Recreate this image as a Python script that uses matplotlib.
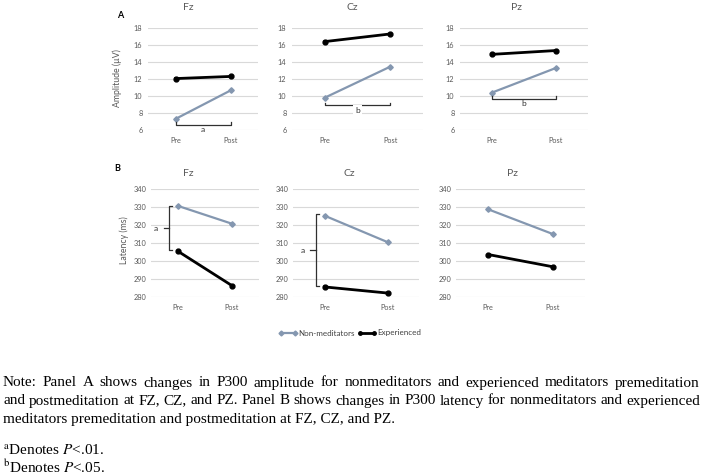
import numpy as np
import matplotlib.pyplot as plt
from matplotlib.lines import Line2D

# data
groups = ["Pre", "Post"]
sites = ["Fz", "Cz", "Pz"]
amp_nonmed = [[7.3, 10.65], [9.8, 13.45], [10.4, 13.3]]
amp_exp = [[12.05, 12.3], [16.4, 17.3], [14.9, 15.35]]
lat_nonmed = [[330.6, 320.7], [325.2, 310.5], [328.7, 315.0]]
lat_exp = [[305.4, 286.3], [285.6, 282.2], [303.6, 296.8]]
amp_ticks = [6, 8, 10, 12, 14, 16, 18]
lat_ticks = [280, 290, 300, 310, 320, 330, 340]
# significance brackets: amplitude (level, label, gap), latency (low, high, label)
amp_sig = {"Fz": (6.6, "a", False), "Cz": (8.9, "b", True), "Pz": (9.66, "b", False)}
lat_sig = {"Fz": (306.0, 330.5, "a"), "Cz": (286.3, 325.9, "a")}

note_lines = [
    "Note: Panel A shows changes in P300 amplitude for nonmeditators and experienced meditators premeditation",
    "and postmeditation at FZ, CZ, and PZ. Panel B shows changes in P300 latency for nonmeditators and experienced",
    "meditators premeditation and postmeditation at FZ, CZ, and PZ.",
]
footnotes = [r"$^{\mathrm{a}}$Denotes $P$<.01.", r"$^{\mathrm{b}}$Denotes $P$<.05."]

GRAY = "#8497b0"
TXT = "#595959"
plt.rcParams["font.family"] = ["Lato", "DejaVu Sans"]
plt.rcParams["mathtext.fontset"] = "stix"

W, H = 703, 476
fig = plt.figure(figsize=(W / 100, H / 100), dpi=100)


def px_axes(x0, x1, ytop, ybot):
    return fig.add_axes([x0 / W, 1 - ybot / H, (x1 - x0) / W, (ybot - ytop) / H])


def style(ax, ticks, ypad):
    ax.set_xlim(-0.5, 1.5)
    ax.set_xticks([0, 1], groups)
    ax.set_ylim(ticks[0], ticks[-1])
    ax.set_yticks(ticks)
    ax.grid(axis="y", color="#d9d9d9", lw=0.8)
    ax.set_axisbelow(True)
    for s in ax.spines.values():
        s.set_visible(False)
    ax.tick_params(axis="both", length=0, labelsize=5.3, colors=TXT)
    ax.tick_params(axis="x", pad=5)
    ax.tick_params(axis="y", pad=ypad)


def series(ax, nm, ex):
    ax.plot([0, 1], nm, color=GRAY, lw=1.6, marker="D", ms=2.8, clip_on=False, zorder=3)
    ax.plot([0, 1], ex, color="black", lw=2.0, marker="o", ms=3.5, clip_on=False, zorder=3)


A_boxes = [(148, 258), (292, 423), (460, 588)]
B_boxes = [(151, 259), (293, 419), (456, 585)]
A_title_x = [188, 352, 517]
B_title_x = [188, 349, 513]

for i, site in enumerate(sites):
    x0, x1 = A_boxes[i]
    ax = px_axes(x0, x1, 28, 130)
    style(ax, amp_ticks, 4)
    series(ax, amp_nonmed[i], amp_exp[i])
    fig.text(A_title_x[i] / W, 1 - 8 / H, site, ha="center", va="center", fontsize=7.5, color=TXT)
    lvl, lab, gap = amp_sig[site]
    ax.plot([0, 0, 1, 1], [lvl + 0.3, lvl, lvl, lvl + 0.3], color="#303030", lw=0.9, clip_on=False, zorder=4)
    kw = dict(bbox=dict(fc="white", ec="none", pad=1.5)) if gap else {}
    ax.annotate(lab, (0.5, lvl), xytext=(0, -3.5), textcoords="offset points",
                ha="center", va="center", fontsize=6, color="#303030", zorder=5, **kw)

    x0, x1 = B_boxes[i]
    ax = px_axes(x0, x1, 189, 297)
    style(ax, lat_ticks, 3)
    series(ax, lat_nonmed[i], lat_exp[i])
    fig.text(B_title_x[i] / W, 1 - 173 / H, site, ha="center", va="center", fontsize=7.5, color=TXT)
    if site in lat_sig:
        lo, hi, lab = lat_sig[site]
        upx = 2.0 / (x1 - x0)  # data units per pixel
        xb = -9 * upx
        mid = (lo + hi) / 2
        ax.plot([xb + 3 * upx, xb, xb, xb + 3 * upx], [hi, hi, lo, lo], color="#303030", lw=0.9, clip_on=False)
        ax.plot([xb, xb - 5.5 * upx], [mid, mid], color="#303030", lw=0.9, clip_on=False)
        ax.text(xb - 13 * upx, mid, lab, ha="center", va="center", fontsize=6, color="#303030")

fig.text(120 / W, 1 - 15 / H, "A", fontsize=6.5, fontweight="bold", ha="center", va="center")
fig.text(117 / W, 1 - 168 / H, "B", fontsize=6.5, fontweight="bold", ha="center", va="center")
fig.text(117 / W, 1 - 78 / H, "Amplitude (µV)", rotation=90, fontsize=6.3, color=TXT, ha="center", va="center")
fig.text(124 / W, 1 - 240 / H, "Latency (ms)", rotation=90, fontsize=6.3, color=TXT, ha="center", va="center")

handles = [Line2D([], [], color=GRAY, lw=1.6, marker="D", ms=2.5),
           Line2D([], [], color="black", lw=2.0, marker="o", ms=2.5)]
fig.legend(handles, ["Non-meditators", "Experienced"], loc="center", bbox_to_anchor=(350 / W, 1 - 333 / H),
           ncol=2, frameon=False, fontsize=5.8, handlelength=2.3, handletextpad=0.1,
           columnspacing=0.4, numpoints=2, labelcolor="#404040")

# note text, first two lines justified
serif = dict(family="Liberation Serif", fontsize=11, va="center", color="black")
r = fig.canvas.get_renderer()
line_y = [383, 401, 419]
for k, line in enumerate(note_lines):
    y = 1 - line_y[k] / H
    if k < 2:
        words = line.split()
        texts = [fig.text(0, y, w, **serif) for w in words]
        widths = [t.get_window_extent(r).width for t in texts]
        gap = (700 - 3 - sum(widths)) / (len(words) - 1)
        x = 3.0
        for t, w in zip(texts, widths):
            t.set_x(x / W)
            x += w + gap
    else:
        fig.text(3 / W, y, line, **serif)
for k, fn in enumerate(footnotes):
    fig.text(3 / W, 1 - [451, 467][k] / H, fn, **serif)

fig.savefig("out.png", dpi=100)
